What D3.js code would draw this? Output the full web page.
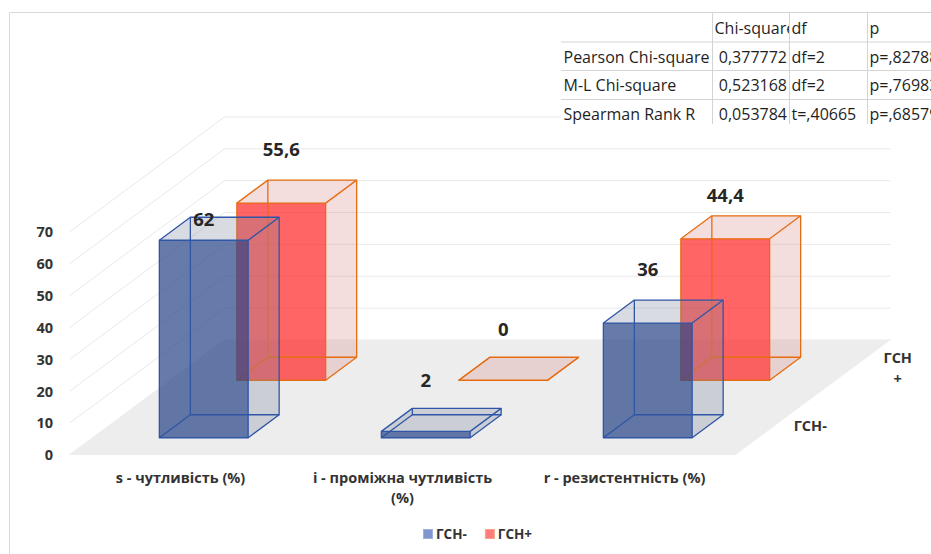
<!DOCTYPE html>
<html>
<head>
<meta charset="utf-8">
<script src="https://cdn.jsdelivr.net/npm/d3@7"></script>
<style>
  body { margin: 0; background: #fff; }
  svg { display: block; }
  text { font-family: "Open Sans", "Noto Sans", sans-serif; }
</style>
</head>
<body>
<svg id="chart" width="931" height="554"></svg>
<script>
// ---- data ----
const categories = ["s - чутливість (%)", "i - проміжна чутливість (%)", "r - резистентність (%)"];
const series = ["ГСН-", "ГСН+"];
const gsnMinus = [62, 2, 36];
const gsnPlus = [55.6, 0, 44.4];
const yTicks = [0, 10, 20, 30, 40, 50, 60, 70];

const statHeader = ["", "Chi-square", "df", "p"];
const statRows = [
  ["Pearson Chi-square", "0,377772", "df=2", "p=,82788"],
  ["M-L Chi-square", "0,523168", "df=2", "p=,76983"],
  ["Spearman Rank R", "0,053784", "t=,40665", "p=,68579"]
];

// ---- styling / layout ----
const seriesStyle = {
  "ГСН-": { stroke: "#2f55a6", front: "#2b4889", side: "#7f8aa0", legend: "#7f97cc", legendStroke: "#9fb3dc" },
  "ГСН+": { stroke: "#e66c12", front: "#ff2a2a", side: "#d98f8f", legend: "#ff7c7c", legendStroke: "#f6a58a" }
};
// vertical nudges for value labels (px, positive = down), per series then category
const labelNudge = { "ГСН-": [31, 0, -2], "ГСН+": [-2, 1, 8] };
const depthLabelGap = [36, 46];

const svg = d3.select("#chart");
const base = 455;          // screen y of value 0 on the front edge
const rise = 0.742;        // upward shift per pixel of depth
const depth = 155;         // depth of the floor, in x pixels
const fmt = d3.formatLocale({ decimal: ",", thousands: " ", grouping: [3], currency: ["", ""] }).format("~g");

const x = d3.scaleBand().domain(categories).range([69.5, 735.5]);
const z = d3.scaleBand().domain(series).range([0, depth]);
const y = d3.scaleLinear().domain([0, 70]).range([0, 223]);
const P = (px, v, d) => [px + d, base - y(v) - d * rise];
const pts = arr => arr.map(p => p.join(",")).join(" ");

// outer frame
svg.append("path").attr("d", "M9.5,554V12.5H931")
  .attr("fill", "none").attr("stroke", "#d9d9d9");

// walls: grid lines on the left and back walls
const [xL, xR] = x.range();
const grid = svg.append("g").attr("fill", "none").attr("stroke", "#e9e9e9").attr("stroke-width", 1);
yTicks.forEach(v => {
  grid.append("polyline").attr("points", pts([P(xL, v, 0), P(xL, v, depth), P(xR, v, depth)]));
});

// floor
svg.append("polygon")
  .attr("points", pts([P(xL, 0, 0), P(xR, 0, 0), P(xR, 0, depth), P(xL, 0, depth)]))
  .attr("fill", "#ededed");

// value axis labels
svg.append("g").selectAll("text").data(yTicks).join("text")
  .attr("x", 53).attr("y", d => base - y(d)).attr("dy", "0.36em")
  .attr("text-anchor", "end").attr("font-size", 14.5).attr("font-weight", 700)
  .attr("fill", "#333").text(d => d);

// bars: far row first, then near row
const barW = x.bandwidth() * 0.4;
const barD = z.bandwidth() * 0.4;
const valuesBySeries = { "ГСН-": gsnMinus, "ГСН+": gsnPlus };
const barsG = svg.append("g");
const labels = [];

[...series].reverse().forEach(s => {
  const st = seriesStyle[s];
  categories.forEach((cat, i) => {
    const v = valuesBySeries[s][i];
    const xl = x(cat) + (x.bandwidth() - barW) / 2, xr = xl + barW;
    const d0 = z(s) + (z.bandwidth() - barD) / 2, d1 = d0 + barD;
    const F = [P(xl, 0, d0), P(xr, 0, d0), P(xr, v, d0), P(xl, v, d0)];
    const B = [P(xl, 0, d1), P(xr, 0, d1), P(xr, v, d1), P(xl, v, d1)];
    const g = barsG.append("g");
    // right and top faces, lightly tinted
    g.append("polygon").attr("points", pts([F[1], B[1], B[2], F[2]]))
      .attr("fill", st.side).attr("fill-opacity", 0.3);
    g.append("polygon").attr("points", pts([F[3], F[2], B[2], B[3]]))
      .attr("fill", st.side).attr("fill-opacity", 0.3);
    // front face
    g.append("polygon").attr("points", pts(F))
      .attr("fill", st.front).attr("fill-opacity", 0.72);
    // all twelve edges
    const edges = g.append("g").attr("fill", "none").attr("stroke", st.stroke)
      .attr("stroke-width", 1.3).attr("stroke-linejoin", "round");
    edges.append("polygon").attr("points", pts(B));
    for (let k = 0; k < 4; k++) edges.append("line")
      .attr("x1", F[k][0]).attr("y1", F[k][1]).attr("x2", B[k][0]).attr("y2", B[k][1]);
    edges.append("polygon").attr("points", pts(F));

    const mid = P((xl + xr) / 2 - barD / 2, v, (d0 + d1) / 2);
    labels.push({ x: (xl + xr) / 2 + d0, y: mid[1] - 40 + labelNudge[s][i], text: fmt(v) });
  });
});

// value labels
svg.append("g").selectAll("text").data(labels).join("text")
  .attr("x", d => d.x).attr("y", d => d.y).attr("dy", "0.36em")
  .attr("text-anchor", "middle").attr("font-size", 18.5).attr("font-weight", 700)
  .attr("fill", "#262626").text(d => d.text);

// category labels, wrapped under the front edge
const catG = svg.append("g");
categories.forEach(cat => {
  const t = catG.append("text")
    .attr("x", x(cat) + x.bandwidth() / 2).attr("y", 483)
    .attr("text-anchor", "middle").attr("font-size", 14.5).attr("font-weight", 700)
    .attr("fill", "#333");
  const words = cat.split(" ");
  let line = [], tspan = t.append("tspan").attr("x", t.attr("x")).attr("dy", 0);
  words.forEach(w => {
    line.push(w);
    tspan.text(line.join(" "));
    if (tspan.node().getComputedTextLength() > 190 && line.length > 1) {
      line.pop();
      tspan.text(line.join(" "));
      line = [w];
      tspan = t.append("tspan").attr("x", t.attr("x")).attr("dy", 20).text(w);
    }
  });
});

// series (depth) labels beside the right edge of the floor
series.forEach((s, i) => {
  const c = P(xR, 0, z(s) + z.bandwidth() / 2);
  const t = svg.append("text").attr("text-anchor", "middle")
    .attr("font-size", 14.5).attr("font-weight", 700).attr("fill", "#333");
  const cx = c[0] + depthLabelGap[i];
  if (s.endsWith("+")) {
    t.append("tspan").attr("x", cx).attr("y", c[1] - 11).attr("dy", "0.36em").text(s.slice(0, -1));
    t.append("tspan").attr("x", cx).attr("y", c[1] + 10).attr("dy", "0.36em").text("+");
  } else {
    t.append("tspan").attr("x", cx).attr("y", c[1]).attr("dy", "0.36em").text(s);
  }
});

// legend
const legend = svg.append("g").attr("transform", "translate(423,529)");
let lx = 0;
series.forEach(s => {
  const item = legend.append("g").attr("transform", `translate(${lx},0)`);
  item.append("rect").attr("x", 0.5).attr("y", 0.5).attr("width", 9).attr("height", 9)
    .attr("fill", seriesStyle[s].legend).attr("stroke", seriesStyle[s].legendStroke);
  const t = item.append("text").attr("x", 13).attr("y", 5).attr("dy", "0.36em")
    .attr("font-size", 13.5).attr("font-weight", 700).attr("fill", "#333").text(s);
  lx += 13 + t.node().getComputedTextLength() + 18;
});

// statistics table in the top-right corner
const colX = [561, 712, 789, 867, 1000];
const rowY = [12, 41.5, 70, 99, 128];
const defs = svg.append("defs");
defs.append("clipPath").attr("id", "tableClip")
  .append("rect").attr("x", 561).attr("y", 0).attr("width", 400).attr("height", 124);
const table = svg.append("g").attr("clip-path", "url(#tableClip)");
table.append("rect").attr("x", 561).attr("y", 12).attr("width", 440).attr("height", 116).attr("fill", "#fff");
const tLines = table.append("g").attr("stroke", "#d4d4d4").attr("stroke-width", 1);
rowY.forEach(ry => tLines.append("line").attr("x1", 560).attr("x2", 1000).attr("y1", ry + 0.5).attr("y2", ry + 0.5));
colX.slice(1, 4).forEach(cx => tLines.append("line").attr("x1", cx + 0.5).attr("x2", cx + 0.5).attr("y1", 12).attr("y2", 128));

[statHeader, ...statRows].forEach((row, r) => {
  row.forEach((cell, c) => {
    if (!cell) return;
    const id = `cell-${r}-${c}`;
    defs.append("clipPath").attr("id", id).append("rect")
      .attr("x", colX[c]).attr("y", rowY[r]).attr("width", colX[c + 1] - colX[c]).attr("height", rowY[r + 1] - rowY[r]);
    const numeric = c === 1 && r > 0;
    table.append("text").attr("clip-path", `url(#${id})`)
      .attr("x", numeric ? colX[c + 1] - 2 : colX[c] + 2.5)
      .attr("y", (rowY[r] + rowY[r + 1]) / 2 + 1).attr("dy", "0.36em")
      .attr("text-anchor", numeric ? "end" : "start")
      .attr("font-size", 16).attr("fill", "#1f1f1f").text(cell);
  });
});
</script>
</body>
</html>
